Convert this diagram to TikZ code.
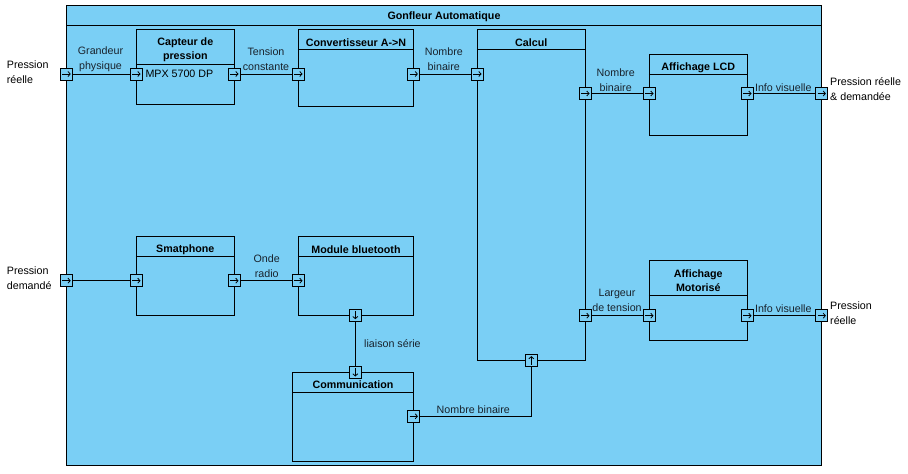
\documentclass[tikz,border=0pt]{standalone}
\usepackage{fontspec}
\setmainfont{Liberation Sans}
\usetikzlibrary{arrows.meta}
\definecolor{blk}{RGB}{122,207,245}
\definecolor{lbl}{RGB}{25,35,45}
\tikzset{
  txt/.style={font=\fontsize{10.7}{15}\selectfont, inner sep=0pt, align=center, text=lbl},
  ext/.style={font=\fontsize{10.7}{15}\selectfont, inner sep=0pt, align=left, anchor=west, text=black},
  ttl/.style={font=\fontsize{10.7}{14.5}\selectfont\bfseries, inner sep=0pt, align=center, text=black},
  block/.style={draw, fill=blk, line width=1pt, inner sep=0pt},
  sep/.style={line width=1pt},
  conn/.style={line width=1pt},
  port/.style={draw, fill=blk, minimum size=12pt, inner sep=0pt, line width=1pt},
  parr/.style={-{Straight Barb[length=2.2pt,width=5pt]}, line width=0.8pt},
  portR/.style={port, path picture={\draw[parr] ([xshift=-4.2pt]path picture bounding box.center) -- ([xshift=4.2pt]path picture bounding box.center);}},
  portD/.style={port, path picture={\draw[parr] ([yshift=4.2pt]path picture bounding box.center) -- ([yshift=-4.2pt]path picture bounding box.center);}},
  portU/.style={port, path picture={\draw[parr] ([yshift=-4.2pt]path picture bounding box.center) -- ([yshift=4.2pt]path picture bounding box.center);}},
}
\begin{document}
\begin{tikzpicture}[x=1pt,y=-1pt]
\useasboundingbox (0,0) rectangle (908,474);
% outer block
\node[block, minimum width=755.2pt, minimum height=460.2pt] (outer) at (444.1,235.4) {};
\draw[sep] (outer.west |- 0,25.3) -- (outer.east |- 0,25.3);
\node[ttl] (tOuter) at (444,17) {Gonfleur Automatique};

% blocks
\node[block, minimum width=98pt, minimum height=75pt] (capteur) at (185.3,66.8) {};
\draw[sep] (capteur.west |- 0,64) -- (capteur.east |- 0,64);
\node[ttl] (tCapteur) at (185.3,49.5) {Capteur de\\pression};
\node[txt, anchor=west, text=black] (mpx) at (145.3,74) {MPX 5700 DP};

\node[block, minimum width=115.4pt, minimum height=77pt] (conv) at (356,67.8) {};
\draw[sep] (conv.west |- 0,49.3) -- (conv.east |- 0,49.3);
\node[ttl] (tConv) at (356,42.3) {Convertisseur A->N};

\node[block, minimum width=108pt, minimum height=331pt] (calcul) at (531.3,194.8) {};
\draw[sep] (calcul.west |- 0,49.3) -- (calcul.east |- 0,49.3);
\node[ttl] (tCalcul) at (531.3,42.3) {Calcul};

\node[block, minimum width=98pt, minimum height=80.6pt] (lcd) at (698.3,95) {};
\draw[sep] (lcd.west |- 0,74) -- (lcd.east |- 0,74);
\node[ttl] (tLcd) at (698.3,67.3) {Affichage LCD};

\node[block, minimum width=98pt, minimum height=78.5pt] (smart) at (185.3,275.75) {};
\draw[sep] (smart.west |- 0,256.7) -- (smart.east |- 0,256.7);
\node[ttl] (tSmart) at (185.3,249.3) {Smatphone};

\node[block, minimum width=115.4pt, minimum height=78.3pt] (bt) at (356,275.85) {};
\draw[sep] (bt.west |- 0,256.7) -- (bt.east |- 0,256.7);
\node[ttl] (tBt) at (356,249.3) {Module bluetooth};

\node[block, minimum width=121.4pt, minimum height=88.7pt] (comm) at (353,416.65) {};
\draw[sep] (comm.west |- 0,392.3) -- (comm.east |- 0,392.3);
\node[ttl] (tComm) at (353,385) {Communication};

\node[block, minimum width=98pt, minimum height=79.3pt] (moto) at (698.3,300.35) {};
\draw[sep] (moto.west |- 0,295) -- (moto.east |- 0,295);
\node[ttl] (tMoto) at (698.3,280.5) {Affichage\\Motoris\'e};

% ports
\node[portR] (pIn1) at (66.5,74) {};
\node[portR] (pCapIn) at (136.3,74) {};
\node[portR] (pCapOut) at (234.3,74) {};
\node[portR] (pConvIn) at (298.3,74) {};
\node[portR] (pConvOut) at (413.7,74) {};
\node[portR] (pCalIn) at (477.3,74) {};
\node[portR] (pCalOut1) at (585.3,93.5) {};
\node[portR] (pCalOut2) at (585.3,315.7) {};
\node[portU] (pCalIn2) at (531.3,360.3) {};
\node[portR] (pLcdIn) at (649.3,93.5) {};
\node[portR] (pLcdOut) at (747.3,93.5) {};
\node[portR] (pOut1) at (821.7,93.5) {};
\node[portR] (pIn2) at (66.5,280.7) {};
\node[portR] (pSmIn) at (136.3,280.7) {};
\node[portR] (pSmOut) at (234.3,280.7) {};
\node[portR] (pBtIn) at (298.3,280.7) {};
\node[portD] (pBtOut) at (355.3,315) {};
\node[portD] (pComIn) at (355.3,372.3) {};
\node[portR] (pComOut) at (413.7,416.3) {};
\node[portR] (pMoIn) at (649.3,315.7) {};
\node[portR] (pMoOut) at (747.3,315.7) {};
\node[portR] (pOut2) at (821.7,315.7) {};

% connectors
\draw[conn] (pIn1) -- (pCapIn);
\draw[conn] (pCapOut) -- (pConvIn);
\draw[conn] (pConvOut) -- (pCalIn);
\draw[conn] (pCalOut1) -- (pLcdIn);
\draw[conn] (pLcdOut) -- (pOut1);
\draw[conn] (pIn2) -- (pSmIn);
\draw[conn] (pSmOut) -- (pBtIn);
\draw[conn] (pBtOut) -- (pComIn);
\draw[conn] (pComOut) -| (pCalIn2);
\draw[conn] (pCalOut2) -- (pMoIn);
\draw[conn] (pMoOut) -- (pOut2);

% connector labels
\node[txt] (l1) at (100.5,59.5) {Grandeur\\physique};
\node[txt] (l2) at (266,59.5) {Tension\\constante};
\node[txt] (l3) at (443.8,59.5) {Nombre\\binaire};
\node[txt] (l4) at (615.7,79.8) {Nombre\\binaire};
\node[txt] (l5) at (783.3,87.3) {Info visuelle};
\node[txt] (l6) at (266.7,265.8) {Onde\\radio};
\node[txt, anchor=west] (l7) at (364,344) {liaison s\'erie};
\node[txt] (l8) at (473.3,409.3) {Nombre binaire};
\node[txt] (l9) at (617,300.8) {Largeur\\de tension};
\node[txt] (l10) at (783.3,308.3) {Info visuelle};

% external labels
\node[ext] (e1) at (6.7,71.7) {Pression\\r\'eelle};
\node[ext] (e2) at (6.7,278) {Pression\\demand\'e};
\node[ext] (e3) at (830,88.7) {Pression r\'eelle\\\& demand\'ee};
\node[ext] (e4) at (830,312.8) {Pression\\r\'eelle};
\end{tikzpicture}
\end{document}
